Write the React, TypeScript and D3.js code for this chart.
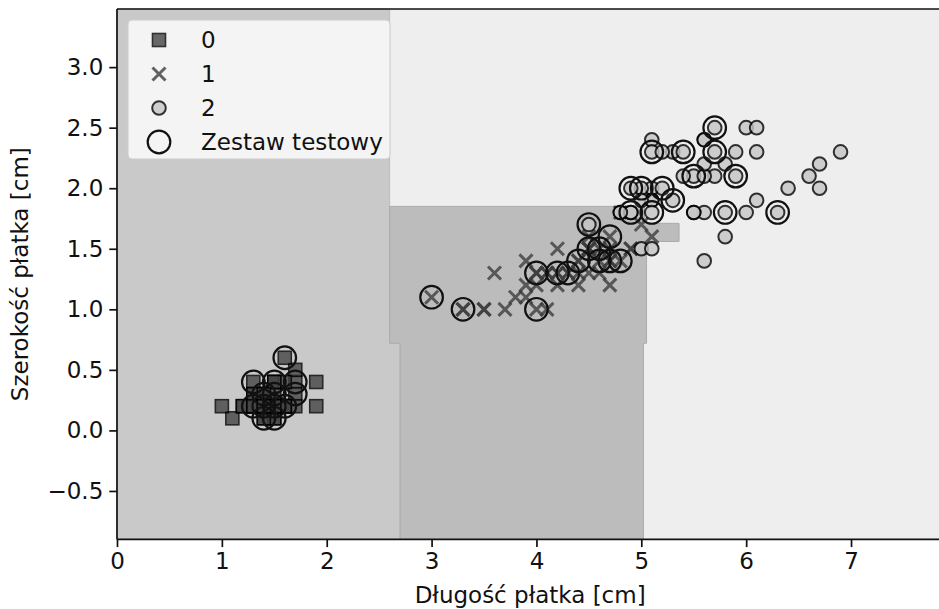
import React, { useEffect, useRef } from 'react';
import * as d3 from 'd3';

// petal length / petal width [cm], per class
const setosa: [number, number][] = [
  [1.4, 0.2], [1.4, 0.2], [1.3, 0.2], [1.5, 0.2], [1.4, 0.2], [1.7, 0.4], [1.4, 0.3], [1.5, 0.2], [1.4, 0.2], [1.5, 0.1],
  [1.5, 0.2], [1.6, 0.2], [1.4, 0.1], [1.1, 0.1], [1.2, 0.2], [1.5, 0.4], [1.3, 0.4], [1.4, 0.3], [1.7, 0.3], [1.5, 0.3],
  [1.7, 0.2], [1.5, 0.4], [1.0, 0.2], [1.7, 0.5], [1.9, 0.2], [1.6, 0.2], [1.6, 0.4], [1.5, 0.2], [1.4, 0.2], [1.6, 0.2],
  [1.6, 0.2], [1.5, 0.4], [1.5, 0.1], [1.4, 0.2], [1.5, 0.2], [1.2, 0.2], [1.3, 0.2], [1.4, 0.1], [1.3, 0.2], [1.5, 0.2],
  [1.3, 0.3], [1.3, 0.3], [1.3, 0.2], [1.6, 0.6], [1.9, 0.4], [1.4, 0.3], [1.6, 0.2], [1.4, 0.2], [1.5, 0.2], [1.4, 0.2],
];
const versicolor: [number, number][] = [
  [4.7, 1.4], [4.5, 1.5], [4.9, 1.5], [4.0, 1.3], [4.6, 1.5], [4.5, 1.3], [4.7, 1.6], [3.3, 1.0], [4.6, 1.3], [3.9, 1.4],
  [3.5, 1.0], [4.2, 1.5], [4.0, 1.0], [4.7, 1.4], [3.6, 1.3], [4.4, 1.4], [4.5, 1.5], [4.1, 1.0], [4.5, 1.5], [3.9, 1.1],
  [4.8, 1.8], [4.0, 1.3], [4.9, 1.5], [4.7, 1.2], [4.3, 1.3], [4.4, 1.4], [4.8, 1.4], [5.0, 1.7], [4.5, 1.5], [3.5, 1.0],
  [3.8, 1.1], [3.7, 1.0], [3.9, 1.2], [5.1, 1.6], [4.5, 1.5], [4.5, 1.6], [4.7, 1.5], [4.4, 1.3], [4.1, 1.3], [4.0, 1.3],
  [4.4, 1.2], [4.6, 1.4], [4.0, 1.2], [3.3, 1.0], [4.2, 1.3], [4.2, 1.2], [4.2, 1.3], [4.3, 1.3], [3.0, 1.1], [4.1, 1.3],
];
const virginica: [number, number][] = [
  [6.0, 2.5], [5.1, 1.9], [5.9, 2.1], [5.6, 1.8], [5.8, 2.2], [6.6, 2.1], [4.5, 1.7], [6.3, 1.8], [5.8, 1.8], [6.1, 2.5],
  [5.1, 2.0], [5.3, 1.9], [5.5, 2.1], [5.0, 2.0], [5.1, 2.4], [5.3, 2.3], [5.5, 1.8], [6.7, 2.2], [6.9, 2.3], [5.0, 1.5],
  [5.7, 2.3], [4.9, 2.0], [6.7, 2.0], [4.9, 1.8], [5.7, 2.1], [6.0, 1.8], [4.8, 1.8], [4.9, 1.8], [5.6, 2.1], [5.8, 1.6],
  [6.1, 1.9], [6.4, 2.0], [5.6, 2.2], [5.1, 1.5], [5.6, 1.4], [6.1, 2.3], [5.6, 2.4], [5.5, 1.8], [4.8, 1.8], [5.4, 2.1],
  [5.6, 2.4], [5.1, 2.3], [5.1, 1.9], [5.9, 2.3], [5.7, 2.5], [5.2, 2.3], [5.0, 1.9], [5.2, 2.0], [5.4, 2.3], [5.1, 1.8],
];

// samples of the test split (circled)
const testSamples: [number, number][] = [
  [1.6, 0.6], [1.3, 0.4], [1.5, 0.4], [1.7, 0.4], [1.4, 0.3], [1.5, 0.3], [1.4, 0.2], [1.5, 0.2], [1.6, 0.2], [1.4, 0.1],
  [1.5, 0.1], [1.3, 0.2], [1.7, 0.3],
  [3.0, 1.1], [3.3, 1.0], [4.0, 1.0], [4.0, 1.3], [4.2, 1.3], [4.3, 1.3], [4.4, 1.4], [4.5, 1.5], [4.6, 1.5], [4.7, 1.6],
  [4.7, 1.4], [4.8, 1.4], [4.6, 1.4],
  [5.7, 2.5], [5.7, 2.3], [5.1, 2.3], [5.4, 2.3], [5.5, 2.1], [5.9, 2.1], [4.9, 2.0], [5.0, 2.0], [5.2, 2.0], [5.3, 1.9],
  [4.9, 1.8], [5.1, 1.8], [5.8, 1.8], [6.3, 1.8], [4.5, 1.7],
];

// decision regions (boundary vertices in cm)
const region0: [number, number][] = [
  [0, 3.48], [2.6, 3.48], [2.6, 0.72], [2.7, 0.72], [2.7, -0.9], [0, -0.9],
];
const region1: [number, number][] = [
  [2.6, 1.85], [5.03, 1.85], [5.03, 1.71], [5.36, 1.71], [5.36, 1.56], [5.05, 1.56], [5.05, 0.72],
  [5.02, 0.72], [5.02, -0.9], [2.7, -0.9], [2.7, 0.72], [2.6, 0.72],
];

const xTicks = [0, 1, 2, 3, 4, 5, 6, 7];
const yTicks = [-0.5, 0, 0.5, 1.0, 1.5, 2.0, 2.5, 3.0];
const legendLabels = ['0', '1', '2', 'Zestaw testowy'];

const FONT = 'DejaVu Sans';
const FS = 23;

function App() {
  const xAxisRef = useRef<SVGGElement>(null);
  const yAxisRef = useRef<SVGGElement>(null);

  const x = d3.scaleLinear().domain([0, 7.88]).range([117, 943.3]);
  const y = d3.scaleLinear().domain([-0.9, 3.48]).range([539.4, 9]);
  const line = d3.line<[number, number]>().x(d => x(d[0])).y(d => y(d[1]));

  useEffect(() => {
    const xa = d3.select(xAxisRef.current);
    xa.call(d3.axisBottom(x).tickValues(xTicks).tickFormat(d3.format('d')).tickSize(7.7).tickSizeOuter(0).tickPadding(6));
    const ya = d3.select(yAxisRef.current);
    ya.call(d3.axisLeft(y).tickValues(yTicks).tickFormat(d3.format('.1f')).tickSize(7.7).tickSizeOuter(0).tickPadding(6));
    [xa, ya].forEach(a => {
      a.select('.domain').remove();
      a.selectAll('line').attr('stroke', '#111').attr('stroke-width', 1.7);
      a.selectAll('text').attr('font-family', FONT).attr('font-size', FS).attr('fill', '#111');
    });
  }, []);

  const sq = 13;
  const xs = 6.5;

  return (
    <svg width={939} height={609} style={{ position: 'absolute', left: 0, top: 0, background: '#fff' }}>
      <rect x={x(0)} y={y(3.48)} width={x(7.88) - x(0)} height={y(-0.9) - y(3.48)} fill="#eeeeee" />
      <path d={line(region0) + 'Z'} fill="#c9c9c9" stroke="#bdbdbd" strokeWidth={1} />
      <path d={line(region1) + 'Z'} fill="#bcbcbc" stroke="#ababab" strokeWidth={1} />

      {setosa.map((d, i) => (
        <rect key={'s' + i} x={x(d[0]) - sq / 2} y={y(d[1]) - sq / 2} width={sq} height={sq}
          fill="#454545" stroke="#000" strokeWidth={1.6} opacity={0.8} />
      ))}
      {versicolor.map((d, i) => (
        <path key={'v' + i} transform={`translate(${x(d[0])},${y(d[1])})`}
          d={`M${-xs},${-xs}L${xs},${xs}M${-xs},${xs}L${xs},${-xs}`}
          stroke="#3d3d3d" strokeWidth={3} opacity={0.8} fill="none" />
      ))}
      {virginica.map((d, i) => (
        <circle key={'g' + i} cx={x(d[0])} cy={y(d[1])} r={6.8}
          fill="#c6c6c6" stroke="#000" strokeWidth={2} opacity={0.8} />
      ))}
      {testSamples.map((d, i) => (
        <circle key={'t' + i} cx={x(d[0])} cy={y(d[1])} r={11.3}
          fill="none" stroke="#111" strokeWidth={2.2} />
      ))}

      {/* spines */}
      <line x1={x(0)} x2={x(0)} y1={y(3.48)} y2={y(-0.9)} stroke="#111" strokeWidth={1.7} />
      <line x1={x(0)} x2={x(7.88)} y1={y(3.48)} y2={y(3.48)} stroke="#111" strokeWidth={1.7} />
      <line x1={x(0)} x2={x(7.88)} y1={y(-0.9)} y2={y(-0.9)} stroke="#111" strokeWidth={1.7} />
      <line x1={x(7.88)} x2={x(7.88)} y1={y(3.48)} y2={y(-0.9)} stroke="#111" strokeWidth={1.7} />

      <g ref={xAxisRef} transform={`translate(0,${y(-0.9)})`} />
      <g ref={yAxisRef} transform={`translate(${x(0)},0)`} />

      <text x={(x(0) + x(7.88)) / 2} y={603} textAnchor="middle" fontFamily={FONT} fontSize={FS} fill="#111">
        Długość płatka [cm]
      </text>
      <text transform={`translate(28,${(y(3.48) + y(-0.9)) / 2}) rotate(-90)`} textAnchor="middle"
        fontFamily={FONT} fontSize={FS} fill="#111">
        Szerokość płatka [cm]
      </text>

      {/* legend */}
      <g transform="translate(128,20)">
        <rect x={0} y={0} width={262} height={139} rx={4} fill="#ffffff" fillOpacity={0.8} stroke="#cccccc" strokeWidth={1} />
        {legendLabels.map((lab, i) => {
          const cy = 20 + i * 34;
          const cx = 31;
          let marker;
          if (i === 0) marker = <rect x={cx - sq / 2} y={cy - sq / 2} width={sq} height={sq} fill="#454545" stroke="#000" strokeWidth={1.6} opacity={0.8} />;
          else if (i === 1) marker = <path transform={`translate(${cx},${cy})`} d={`M${-xs},${-xs}L${xs},${xs}M${-xs},${xs}L${xs},${-xs}`} stroke="#3d3d3d" strokeWidth={3} opacity={0.8} />;
          else if (i === 2) marker = <circle cx={cx} cy={cy} r={6.8} fill="#c6c6c6" stroke="#000" strokeWidth={2} opacity={0.8} />;
          else marker = <circle cx={cx} cy={cy} r={11.3} fill="none" stroke="#111" strokeWidth={2.2} />;
          return (
            <g key={lab}>
              {marker}
              <text x={73} y={cy} dy="0.36em" fontFamily={FONT} fontSize={FS} fill="#111">{lab}</text>
            </g>
          );
        })}
      </g>
    </svg>
  );
}

export default App;
